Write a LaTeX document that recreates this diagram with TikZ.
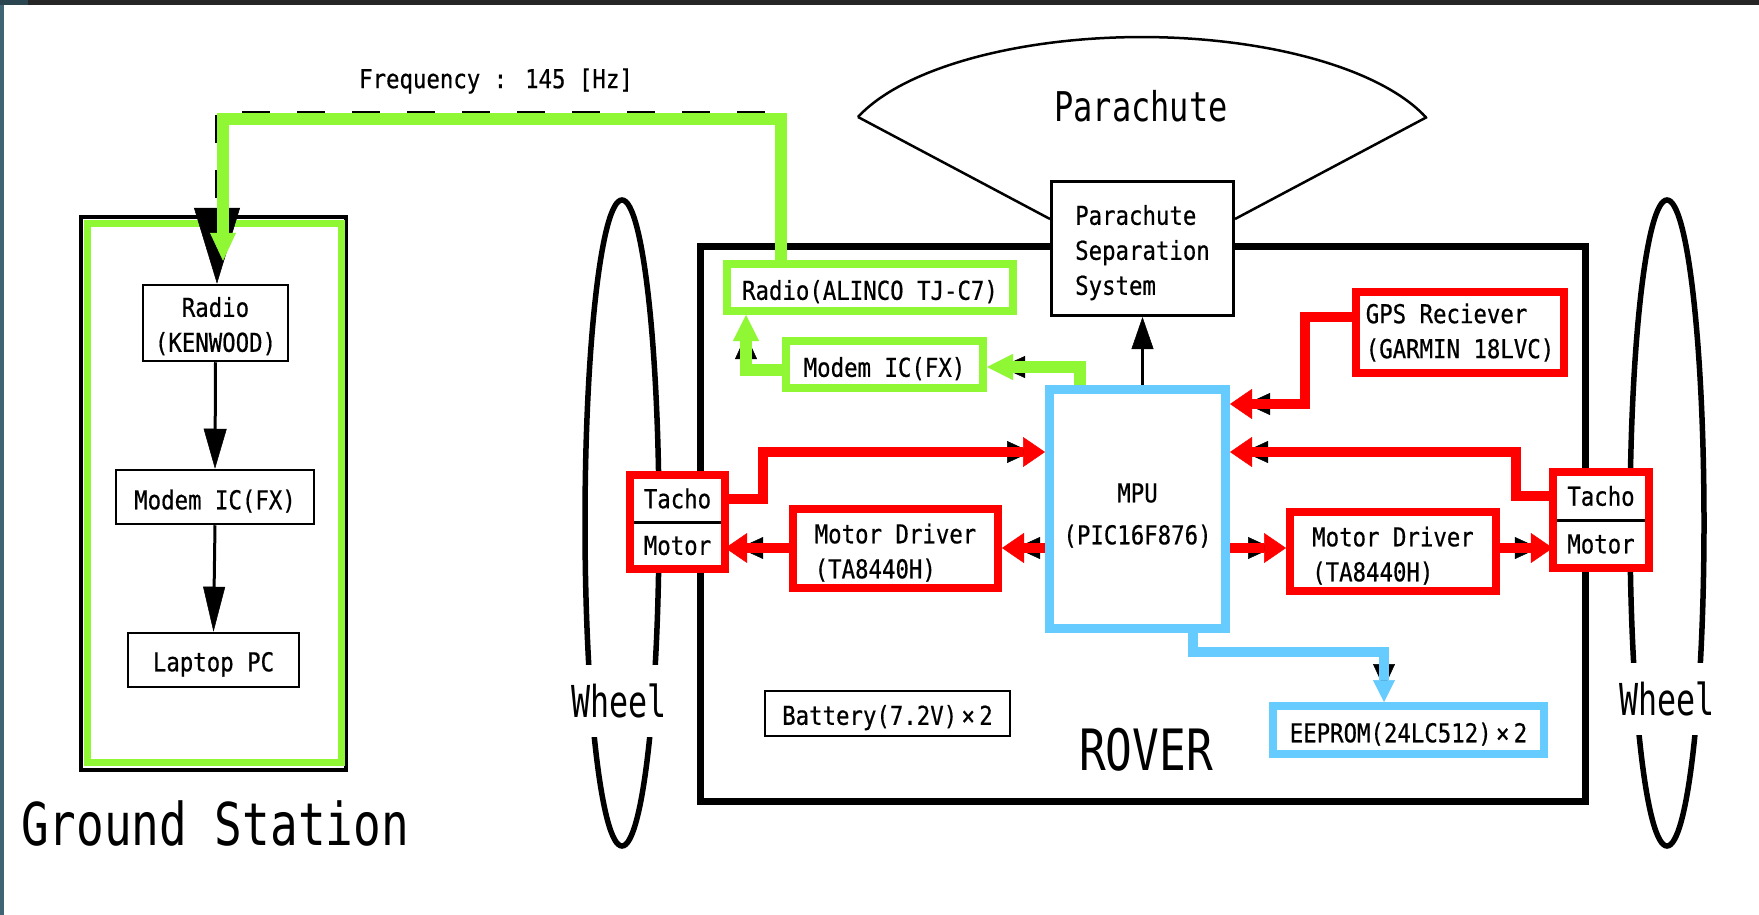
\documentclass[tikz,border=0pt]{standalone}
\usepackage{fontspec}
\newfontfamily\fA[FakeStretch=0.86,FakeBold=0.6]{DejaVu Sans Mono}
\newfontfamily\fB[FakeStretch=0.78]{DejaVu Sans Mono}
\newfontfamily\fC[FakeStretch=0.72]{DejaVu Sans Mono}
\usetikzlibrary{arrows.meta}
\definecolor{gcol}{HTML}{8FF734}
\definecolor{rcol}{HTML}{FF0000}
\definecolor{bcol}{HTML}{66CCFF}
\definecolor{edgecol}{HTML}{3F6474}
\newcommand\txtS{\fA\fontsize{26}{35}\selectfont}
\newcommand\txtPara{\fB\fontsize{41}{41}\selectfont}
\newcommand\txtGround{\fB\fontsize{59}{59}\selectfont}
\newcommand\txtRover{\fB\fontsize{57}{57}\selectfont}
\newcommand\txtWheel{\fC\fontsize{44}{44}\selectfont}
\newcommand\lowstrut{\rule{0pt}{28pt}}
\newcommand\lowerstrut{\rule{0pt}{32pt}}
\tikzset{
  box/.style={fill=white, inner sep=0pt, font=\txtS},
  bbox/.style={box, draw=black, line width=2.5pt},
  gbox/.style={box, draw=gcol, line width=8pt},
  rbox/.style={box, draw=rcol, line width=8pt},
  cbox/.style={box, draw=bcol, line width=9pt},
  blkarrow/.style={draw=black, line width=3pt, -{Triangle[length=40pt,width=23pt,line width=0.5pt]}},
  ghost/.style={draw=black, line width=3pt, -{Triangle[length=24pt,width=22pt,line width=0.5pt]}, shorten >=14pt},
  redarrow/.style={draw=rcol, line width=10pt, -{Triangle[length=22pt,width=30pt,line width=0.5pt]}},
  bluearrow/.style={draw=bcol, line width=10pt, -{Triangle[length=22pt,width=22pt,line width=0.5pt]}},
  greenarrow/.style={draw=gcol, line width=12pt, -{Triangle[length=26pt,width=26pt,line width=0.5pt]}},
  wheelshape/.style={draw=black, line width=5.5pt},
  wheellabel/.style={fill=white, inner sep=0pt, minimum width=100pt, minimum height=72pt, font=\txtWheel},
  para/.style={draw=black, line width=2.5pt},
}
\begin{document}
\begin{tikzpicture}[x=1pt,y=-1pt]
\useasboundingbox (0,0) rectangle (1759,915);
\fill[white] (0,0) rectangle (1759,915);
\fill[black!85] (0,0) rectangle (1759,5);
\fill[edgecol] (0,0) rectangle (4,915);
\fill[edgecol!70!black] (0,0) rectangle (28,5);

% wheels
\draw[wheelshape] (622,523) ellipse[x radius=37pt, y radius=323pt];
\draw[wheelshape] (1667,523) ellipse[x radius=37pt, y radius=323pt];
\node[wheellabel] (wheelL) at (619,701) {Wheel};
\node[wheellabel] (wheelR) at (1667,699) {Wheel};

% rover frame
\node[draw, line width=7pt, minimum width=885pt, minimum height=554.5pt, inner sep=0pt] (rover) at (1142.5,523.75) {};
\node[font=\txtRover] (roverlbl) at (1146,750) {ROVER};

% parachute
\node[bbox, line width=3pt, minimum width=182pt, minimum height=134pt, align=left] (sep) at (1142.5,248.5) {\lowstrut Parachute\\Separation\\System};
\coordinate (pcL) at (858,117);
\coordinate (pcR) at (1427,117);
\coordinate (pj) at (1142,219);
\draw[para] (pcL) arc[start angle=159.5, end angle=20.5, x radius=303pt, y radius=123pt];
\draw[para] (pcL) -- (sep.west |- pj);
\draw[para] (pcR) -- (sep.east |- pj);
\node[font=\txtPara] (paralbl) at (1141,106) {Parachute};

% ground station
\node[draw, line width=4pt, minimum width=265pt, minimum height=553.5pt, inner sep=0pt] (gsframe) at (213.5,493.25) {};
\node[draw=gcol, line width=7pt, minimum width=254pt, minimum height=539pt, inner sep=0pt] (gsgreen) at (214.5,493) {};
\node[font=\txtGround] (gslbl) at (215,823) {Ground Station};
\node[bbox, minimum width=145pt, minimum height=76pt, align=center] (radioK) at (215.5,323) {\rule{0pt}{26pt}Radio\\(KENWOOD)};
\node[bbox, minimum width=198pt, minimum height=54pt] (modemK) at (215,497) {\lowstrut Modem IC(FX)};
\node[bbox, minimum width=171pt, minimum height=54pt] (laptop) at (213.5,660) {\lowstrut Laptop PC};
\draw[blkarrow] (radioK.south) -- (modemK.north);
\draw[blkarrow, -{Triangle[length=45pt,width=22pt,line width=0.5pt]}] (modemK.south) -- (laptop.north);

% rover boxes
\node[gbox, minimum width=286pt, minimum height=47pt] (radioA) at (870,287.5) {\lowstrut Radio(ALINCO TJ-C7)};
\node[gbox, minimum width=197pt, minimum height=47pt] (modemR) at (884.5,364.5) {\lowstrut Modem IC(FX)};
\node[rbox, minimum width=208pt, minimum height=81pt, align=left] (gps) at (1460,332.5) {GPS Reciever\\(GARMIN 18LVC)};
\node[cbox, minimum width=176pt, minimum height=239pt, align=center] (mpu) at (1137.5,509) {\lowerstrut MPU\\[7pt](PIC16F876)};
\node[cbox, line width=8pt, minimum width=271pt, minimum height=48pt] (eeprom) at (1408.5,730) {\lowstrut EEPROM(24LC512)\,×\,2};
\node[bbox, minimum width=245pt, minimum height=45pt] (battery) at (887.5,713.5) {\lowstrut Battery(7.2V)\,×\,2};
\node[rbox, minimum width=205pt, minimum height=79pt, align=left] (mdL) at (895.5,548.5) {\lowstrut Motor Driver\\(TA8440H)};
\node[rbox, minimum width=206pt, minimum height=79pt, align=left] (mdR) at (1393,551.5) {\lowstrut Motor Driver\\(TA8440H)};

% tacho / motor
\node[box, minimum width=95pt, minimum height=47pt] (tachoL) at (677.5,498.5) {Tacho};
\node[box, minimum width=95pt, minimum height=47pt] (motorL) at (677.5,545.5) {Motor};
\draw[line width=3pt] (tachoL.south west) -- (tachoL.south east);
\draw[rcol, line width=8pt] (tachoL.north west) rectangle (motorL.south east);
\node[box, minimum width=96pt, minimum height=48pt] (tachoR) at (1601,496) {Tacho};
\node[box, minimum width=96pt, minimum height=48pt] (motorR) at (1601,544) {Motor};
\draw[line width=3pt] (tachoR.south west) -- (tachoR.south east);
\draw[rcol, line width=8pt] (tachoR.north west) rectangle (motorR.south east);

% frequency link
\node[font=\txtS] (freq) at (496,81) {Frequency : 145 [Hz]};
\coordinate (bA) at (783,113);
\coordinate (bK) at (217,113);
\draw[black, line width=4pt, dash pattern=on 28pt off 27pt, -{Triangle[length=76pt,width=46pt,line width=0.5pt]}] (radioA.north -| bA) -- (bA) -- (bK) -- (radioK.north -| bK);
\coordinate (gA) at (781,119);
\coordinate (gK) at (223,119);
\draw[gcol, line width=12pt, -{Triangle[length=28pt,width=26pt,line width=0.5pt]}, shorten >=23pt] (radioA.north -| gA) -- (gA) -- (gK) -- (radioK.north -| gK);

% black arrow to separation system
\draw[draw=black, line width=3pt, -{Triangle[length=32pt,width=22pt,line width=0.5pt]}] (mpu.north -| sep) -- (sep.south);

% connector coordinates
\coordinate (g1) at (1080,367);
\coordinate (g2) at (746,370);
\coordinate (rl) at (763,452);
\coordinate (rr) at (1516,452);
\coordinate (rg1) at (1305,317);
\coordinate (rg2) at (1305,404);
\coordinate (yL) at (1000,548);
\coordinate (yR) at (1300,548);
\coordinate (b1) at (1193,652);
\coordinate (b2) at (1384,652);

% original black arrows, mostly hidden
\draw[ghost] (mpu.north -| g1) -- (g1) -- (g1 -| modemR.east);
\draw[ghost, shorten >=20pt] (modemR.west |- g2) -- (g2) -- (radioA.south -| g2);
\draw[ghost] (tachoL.east) -| (rl) -- (rl -| mpu.west);
\draw[ghost] (tachoR.west) -| (rr) -- (rr -| mpu.east);
\draw[ghost, shorten >=16pt] (rg1 -| gps.west) -- (rg1) -- (rg2) -- (rg2 -| mpu.east);
\draw[ghost] (mpu.west |- yL) -- (mdL.east |- yL);
\draw[ghost] (mdL.west |- yL) -- (motorL.east |- yL);
\draw[ghost] (mpu.east |- yR) -- (mdR.west |- yR);
\draw[ghost] (mdR.east |- yR) -- (motorR.west |- yR);
\draw[ghost] (mpu.south -| b1) -- (b1) -- (b2) -- (eeprom.north -| b2);

% green connectors
\draw[greenarrow] (mpu.north -| g1) -- (g1) -- (g1 -| modemR.east);
\draw[greenarrow] (modemR.west |- g2) -- (g2) -- (radioA.south -| g2);

% red connectors
\draw[redarrow] (tachoL.east) -| (rl) -- (rl -| mpu.west);
\draw[redarrow] (tachoR.west) -| (rr) -- (rr -| mpu.east);
\draw[redarrow] (rg1 -| gps.west) -- (rg1) -- (rg2) -- (rg2 -| mpu.east);
\draw[redarrow] (mpu.west |- yL) -- (mdL.east |- yL);
\draw[redarrow] (mdL.west |- yL) -- (motorL.east |- yL);
\draw[redarrow] (mpu.east |- yR) -- (mdR.west |- yR);
\draw[redarrow] (mdR.east |- yR) -- (motorR.west |- yR);

% blue connector
\draw[bluearrow] (mpu.south -| b1) -- (b1) -- (b2) -- (eeprom.north -| b2);
\end{tikzpicture}
\end{document}
